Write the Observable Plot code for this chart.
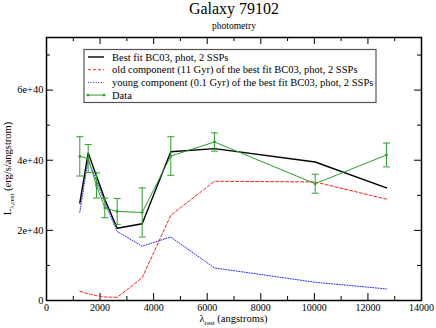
<!DOCTYPE html>
<html><head><meta charset="utf-8">
<script src="https://cdn.jsdelivr.net/npm/d3@7"></script>
<script src="https://cdn.jsdelivr.net/npm/@observablehq/plot@0.6"></script>
<style>
body{margin:0;background:#fff}
#wrap{width:436px;height:328px}
</style></head><body><div id="wrap"></div>
<script>
// values in units of 1e40 erg/s/angstrom
const wavelength = [1243, 1556, 1866, 2177, 2638, 3572, 4640, 6271, 10030, 12691];
const dataLum   = [4.11, 4.05, 3.28, 2.64, 2.54, 2.51, 4.12, 4.52, 3.33, 4.15];
const dataErr   = [0.56, 0.40, 0.36, 0.28, 0.37, 0.70, 0.55, 0.26, 0.27, 0.34];
const bestFit   = [2.78, 4.21, 3.55, 2.89, 2.06, 2.19, 4.24, 4.33, 3.95, 3.21];
const oldComp   = [0.26, 0.19, 0.14, 0.10, 0.09, 0.65, 2.43, 3.40, 3.38, 2.89];
const youngComp = [2.52, 4.02, 3.41, 2.79, 1.97, 1.55, 1.81, 0.93, 0.52, 0.33];

const xMajor = [0, 2000, 4000, 6000, 8000, 10000, 12000, 14000];
const xMinor = [1000, 3000, 5000, 7000, 9000, 11000, 13000];
const yMajor = [0, 2, 4, 6];
const yMinor = [1, 3, 5, 7];
const yTickLabels = ["0", "2e+40", "4e+40", "6e+40"];

const legendLabels = [
  "Best fit BC03, phot, 2 SSPs",
  "old component (11 Gyr) of the best fit BC03, phot, 2 SSPs",
  "young component (0.1 Gyr) of the best fit BC03, phot, 2 SSPs",
  "Data"
];
const titleText = "Galaxy 79102";
const subtitleText = "photometry";

const GREEN = "#2ba02b";
const rows = wavelength.map((w, i) => ({
  w, lum: dataLum[i], lo: dataLum[i] - dataErr[i], hi: dataLum[i] + dataErr[i],
  fit: bestFit[i], old: oldComp[i], young: youngComp[i]
}));

const W = 436, H = 328, mL = 46, mR = 15, mT = 37, mB = 28;
const fw = W - mL - mR, fh = H - mT - mB;
const capSymbol = {draw(ctx, size) { const r = Math.sqrt(size / Math.PI); ctx.moveTo(-r, 0); ctx.lineTo(r, 0); }};

const plot = Plot.plot({
  width: W, height: H, marginLeft: mL, marginRight: mR, marginTop: mT, marginBottom: mB,
  style: {fontFamily: "Liberation Serif, serif", fontSize: "10px", background: "white", color: "black"},
  x: {domain: [0, 14000]},
  y: {domain: [0, 7.5]},
  marks: [
    Plot.axisX(xMajor, {tickSize: 0, tickPadding: 3, fontSize: 10, label: null, tickFormat: d => String(d)}),
    Plot.axisY(yMajor, {tickSize: 0, tickPadding: 3, fontSize: 10.5, label: null, tickFormat: d => yTickLabels[yMajor.indexOf(d)]}),
    // inward ticks on all four sides
    Plot.tickX(xMajor, {x: d => d, insetTop: fh - 7, stroke: "black"}),
    Plot.tickX(xMinor, {x: d => d, insetTop: fh - 4, stroke: "black"}),
    Plot.tickX(xMajor, {x: d => d, insetBottom: fh - 7, stroke: "black"}),
    Plot.tickX(xMinor, {x: d => d, insetBottom: fh - 4, stroke: "black"}),
    Plot.tickY(yMajor, {y: d => d, insetRight: fw - 7, stroke: "black"}),
    Plot.tickY(yMinor, {y: d => d, insetRight: fw - 4, stroke: "black"}),
    Plot.tickY(yMajor, {y: d => d, insetLeft: fw - 7, stroke: "black"}),
    Plot.tickY(yMinor, {y: d => d, insetLeft: fw - 4, stroke: "black"}),
    // model curves
    Plot.line(rows, {x: "w", y: "young", stroke: "#2222ff", strokeWidth: 1, strokeDasharray: "1,1.6"}),
    Plot.line(rows, {x: "w", y: "old", stroke: "#ff2020", strokeWidth: 1, strokeDasharray: "3,2"}),
    Plot.line(rows, {x: "w", y: "fit", stroke: "black", strokeWidth: 1.4}),
    // data with error bars
    Plot.line(rows, {x: "w", y: "lum", stroke: GREEN, strokeWidth: 1}),
    Plot.ruleX(rows, {x: "w", y1: "lo", y2: "hi", stroke: GREEN, strokeWidth: 1}),
    Plot.dot(rows, {x: "w", y: "lo", r: 3.5, symbol: capSymbol, fill: "none", stroke: GREEN, strokeWidth: 1}),
    Plot.dot(rows, {x: "w", y: "hi", r: 3.5, symbol: capSymbol, fill: "none", stroke: GREEN, strokeWidth: 1}),
    Plot.dot(rows, {x: "w", y: "lum", r: 1.4, fill: GREEN}),
    Plot.frame({stroke: "black", strokeWidth: 1.5}),
    // title & subtitle
    Plot.text([titleText], {frameAnchor: "top", dy: -28.6, fontSize: 16, lineAnchor: "middle", text: d => d}),
    Plot.text([subtitleText], {frameAnchor: "top", dy: -12, fontSize: 9.5, lineAnchor: "middle", text: d => d})
  ]
});
document.getElementById("wrap").appendChild(plot);

const svg = d3.select(plot);
const cx = mL + fw / 2, cy = mT + fh / 2;
// x axis label
const xl = svg.append("text").attr("x", cx).attr("y", 322).attr("text-anchor", "middle")
  .attr("font-family", "Liberation Serif, serif").attr("font-size", 10.5).attr("fill", "black");
xl.append("tspan").text("λ");
xl.append("tspan").attr("dy", 3).attr("font-size", 7).text("rest");
xl.append("tspan").attr("dy", -3).text(" (angstroms)");
// y axis label
const yl = svg.append("text").attr("transform", `translate(11,${cy}) rotate(-90)`).attr("text-anchor", "middle")
  .attr("font-family", "Liberation Serif, serif").attr("font-size", 10.5).attr("fill", "black");
yl.append("tspan").text("L");
yl.append("tspan").attr("dy", 3).attr("font-size", 7).text("λ,rest");
yl.append("tspan").attr("dy", -3).text(" (erg/s/angstrom)");

// legend
const lg = svg.append("g").attr("transform", "translate(84,49.5)");
lg.append("rect").attr("width", 292).attr("height", 53).attr("fill", "white").attr("stroke", "#555").attr("stroke-width", 1.2);
const styles = [
  {stroke: "black", w: 1.4, dash: null},
  {stroke: "#ff2020", w: 1, dash: "3,2"},
  {stroke: "#2222ff", w: 1, dash: "1,1.6"},
  {stroke: GREEN, w: 1, dash: null}
];
legendLabels.forEach((t, i) => {
  const y = 7.5 + i * 12.7;
  const s = styles[i];
  lg.append("line").attr("x1", 4).attr("x2", 20).attr("y1", y).attr("y2", y)
    .attr("stroke", s.stroke).attr("stroke-width", s.w).attr("stroke-dasharray", s.dash);
  if (i === 3) {
    lg.append("circle").attr("cx", 4).attr("cy", y).attr("r", 1.4).attr("fill", GREEN);
    lg.append("circle").attr("cx", 20).attr("cy", y).attr("r", 1.4).attr("fill", GREEN);
  }
  lg.append("text").attr("x", 28).attr("y", y + 3.6).attr("text-anchor", "start")
    .attr("font-family", "Liberation Serif, serif")
    .attr("font-size", 10.5).attr("fill", "black").text(t);
});
</script></body></html>
